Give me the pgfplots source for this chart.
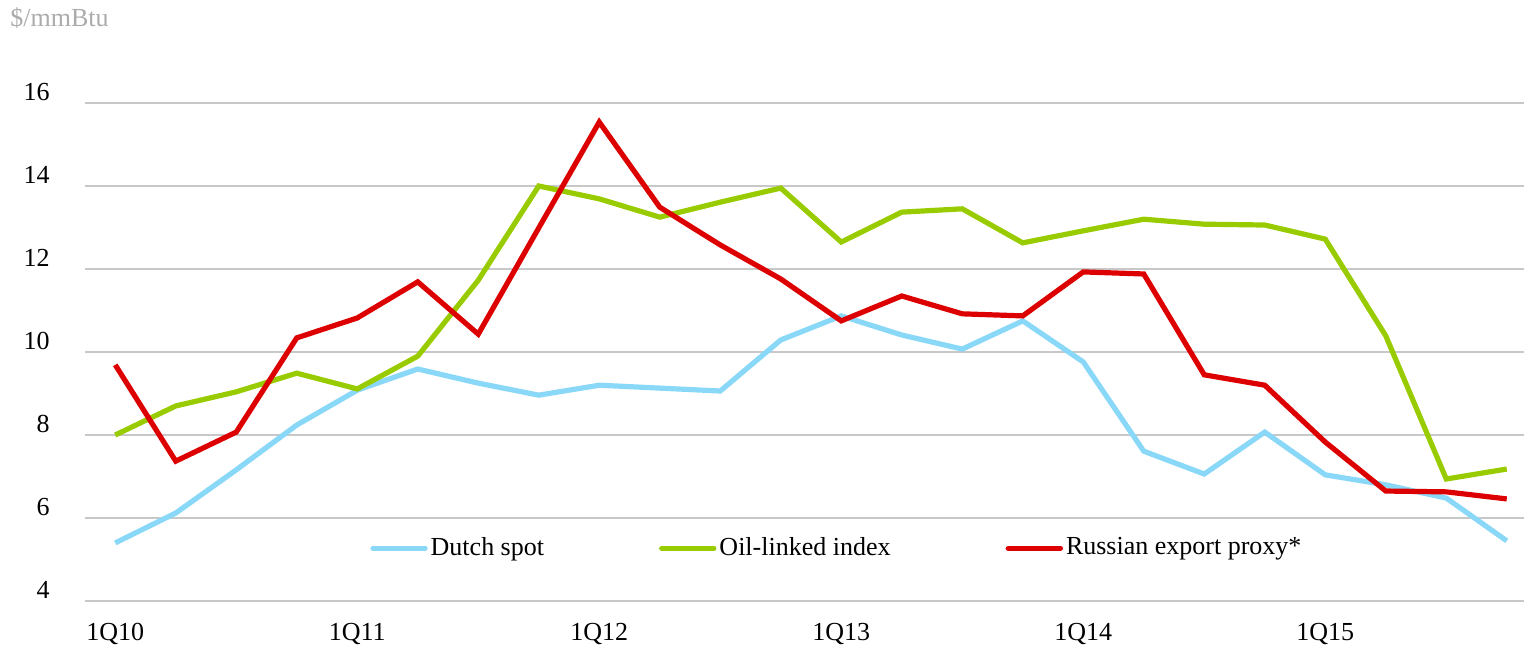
\documentclass[border=0pt]{standalone}
\usepackage{fontspec}
\setmainfont{Liberation Serif}
\usepackage{pgfplots}
\pgfplotsset{compat=1.18}
\definecolor{dutch}{HTML}{8AD8F8}
\definecolor{oil}{HTML}{99CC00}
\definecolor{rus}{HTML}{DD0000}
\definecolor{gridc}{HTML}{C8C8C8}
\begin{document}
\begin{tikzpicture}
\useasboundingbox (-42.5pt,-24.5pt) rectangle (719.5pt,300.5pt);
\fontsize{13}{15}\selectfont
\begin{axis}[
  at={(0pt,0pt)}, anchor=south west,
  scale only axis,
  width=726pt, height=249pt,
  xmin=-0.5, xmax=23.5,
  ymin=4, ymax=16,
  axis line style={draw=none},
  ytick={4,6,8,10,12,14,16},
  xtick={0,4,8,12,16,20},
  xticklabels={1Q10,1Q11,1Q12,1Q13,1Q14,1Q15},
  major tick length=0pt,
  ymajorgrids,
  grid style={gridc, line width=1pt},
  /pgf/number format/assume math mode=true,
  tick label style={font=\fontsize{13}{15}\selectfont},
  yticklabel style={anchor=east, inner sep=0pt, xshift=-17.5pt, yshift=5.5pt},
  xticklabel style={anchor=north, inner sep=0pt, yshift=-11pt},
  legend columns=3,
  legend style={at={(axis cs:4.11,5.27)}, anchor=west, draw=none, fill=none,
    font=\fontsize{13}{15}\selectfont,
    nodes={inner sep=1.5pt},
    /tikz/every even column/.append style={column sep=56pt}},
  legend image code/.code={\draw[#1, line width=2.7pt, line cap=round] (0pt,0pt) -- (26pt,0pt);},
  clip=false,
]
\addplot[dutch, line width=2.6pt] coordinates {
(0,5.40) (1,6.12) (2,7.16) (3,8.24) (4,9.08) (5,9.59) (6,9.25) (7,8.96)
(8,9.20) (9,9.13) (10,9.06) (11,10.29) (12,10.87) (13,10.41) (14,10.07) (15,10.75)
(16,9.76) (17,7.61) (18,7.06) (19,8.07) (20,7.04) (21,6.80) (22,6.48) (23,5.45)};
\addlegendentry{Dutch spot}
\addplot[oil, line width=2.6pt] coordinates {
(0,8.00) (1,8.70) (2,9.04) (3,9.49) (4,9.11) (5,9.90) (6,11.73) (7,14.00)
(8,13.69) (9,13.25) (10,13.61) (11,13.95) (12,12.65) (13,13.37) (14,13.45) (15,12.63)
(16,12.92) (17,13.20) (18,13.08) (19,13.06) (20,12.72) (21,10.39) (22,6.94) (23,7.18)};
\addlegendentry{Oil-linked index}
\addplot[rus, line width=2.6pt] coordinates {
(0,9.69) (1,7.37) (2,8.07) (3,10.34) (4,10.82) (5,11.69) (6,10.43) (7,12.99)
(8,15.54) (9,13.49) (10,12.58) (11,11.76) (12,10.75) (13,11.35) (14,10.92) (15,10.87)
(16,11.93) (17,11.88) (18,9.45) (19,9.20) (20,7.83) (21,6.65) (22,6.63) (23,6.46)};
\addlegendentry{Russian export proxy*}
\node[anchor=west, inner sep=0pt, text=black!33] at (rel axis cs:0,1) [xshift=-37.5pt, yshift=42.5pt] {\$/mmBtu};
\end{axis}
\end{tikzpicture}
\end{document}
